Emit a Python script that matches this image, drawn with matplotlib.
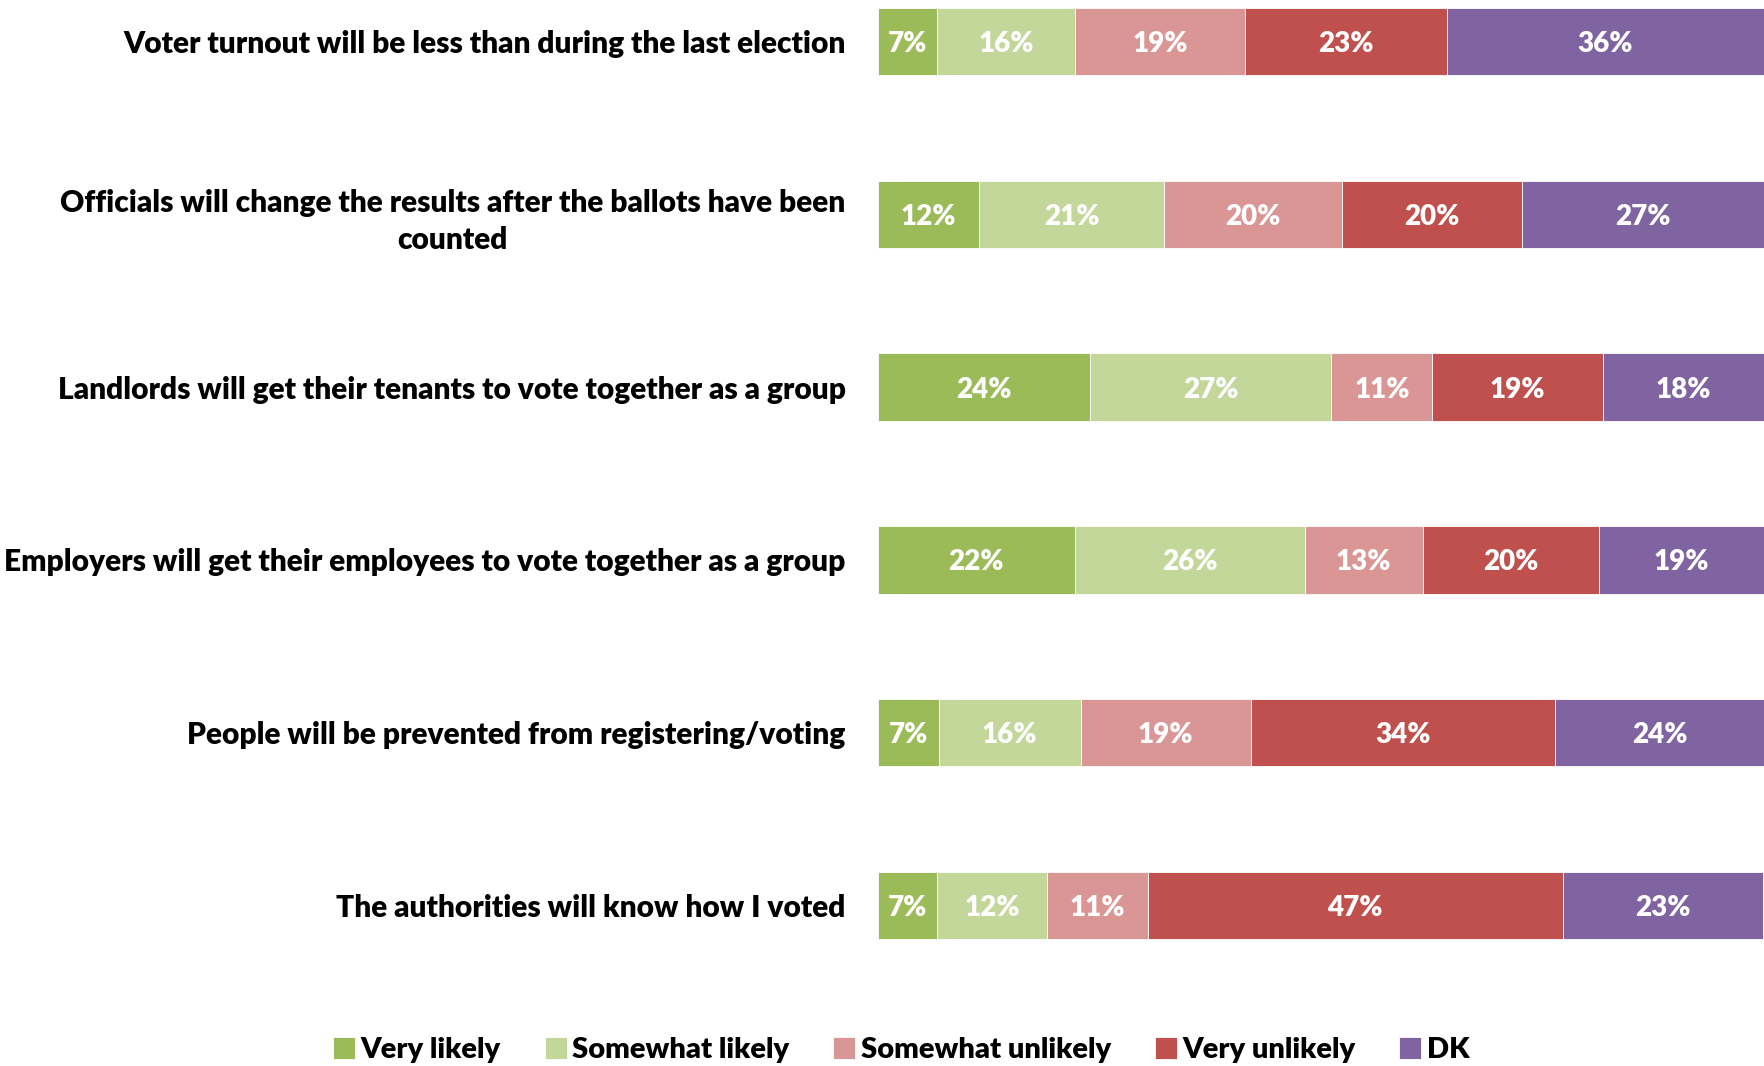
import numpy as np
import matplotlib
matplotlib.use("Agg")
from matplotlib import pyplot as plt

statements = [
    "Voter turnout will be less than during the last election",
    "Officials will change the results after the ballots have been\ncounted",
    "Landlords will get their tenants to vote together as a group",
    "Employers will get their employees to vote together as a group",
    "People will be prevented from registering/voting",
    "The authorities will know how I voted",
]
responses = ["Very likely", "Somewhat likely", "Somewhat unlikely", "Very unlikely", "DK"]
# shares (labels show them rounded)
very_likely = [6.7, 11.5, 24.0, 22.3, 6.9, 6.7]
somewhat_likely = [15.6, 20.8, 27.2, 25.9, 16.0, 12.4]
somewhat_unlikely = [19.2, 20.1, 11.4, 13.3, 19.2, 11.4]
very_unlikely = [22.7, 20.3, 19.2, 19.9, 34.3, 46.8]
dont_know = [35.8, 27.3, 18.2, 18.6, 23.7, 22.6]
colors = ["#9BBB59", "#C4D79B", "#DA9694", "#C0504D", "#8064A2"]

plt.rcParams['font.family'] = ['Lato', 'DejaVu Sans']

W, H = 1764, 1066
fig = plt.figure(figsize=(W / 100, H / 100), dpi=100)
ax = fig.add_axes([877.5 / W, 74 / H, 886.5 / W, 992 / H])

series = [very_likely, somewhat_likely, somewhat_unlikely, very_unlikely, dont_know]
y = np.arange(len(statements))
left = np.zeros(len(statements))
for vals, color, name in zip(series, colors, responses):
    vals = np.array(vals, dtype=float)
    bars = ax.barh(y, vals, left=left, height=0.39, color=color, label=name,
                   edgecolor='white', linewidth=0.6)
    for b, v in zip(bars, vals):
        ax.text(b.get_x() + b.get_width() / 2, b.get_y() + b.get_height() / 2,
                f"{int(round(v))}%", ha='center', va='center_baseline', color='white',
                fontsize=20, fontweight='heavy')
    left += vals

ax.set_xlim(0, 100)
ax.set_ylim(5.5, -0.24)
ax.set_yticks(y)
ax.set_yticklabels(statements, fontsize=21.5, fontweight='heavy',
                   multialignment='center', linespacing=1.4)
ax.tick_params(axis='y', length=0, pad=23)
ax.set_xticks([])
for s in ax.spines.values():
    s.set_visible(False)

fig.legend(loc='center', bbox_to_anchor=(0.511, 16 / H), ncol=5, frameon=False,
           prop={'size': 21, 'weight': 'heavy'}, handlelength=0.75, handleheight=0.75,
           handletextpad=0.2, columnspacing=1.5)

fig.savefig("out.png", dpi=100)
